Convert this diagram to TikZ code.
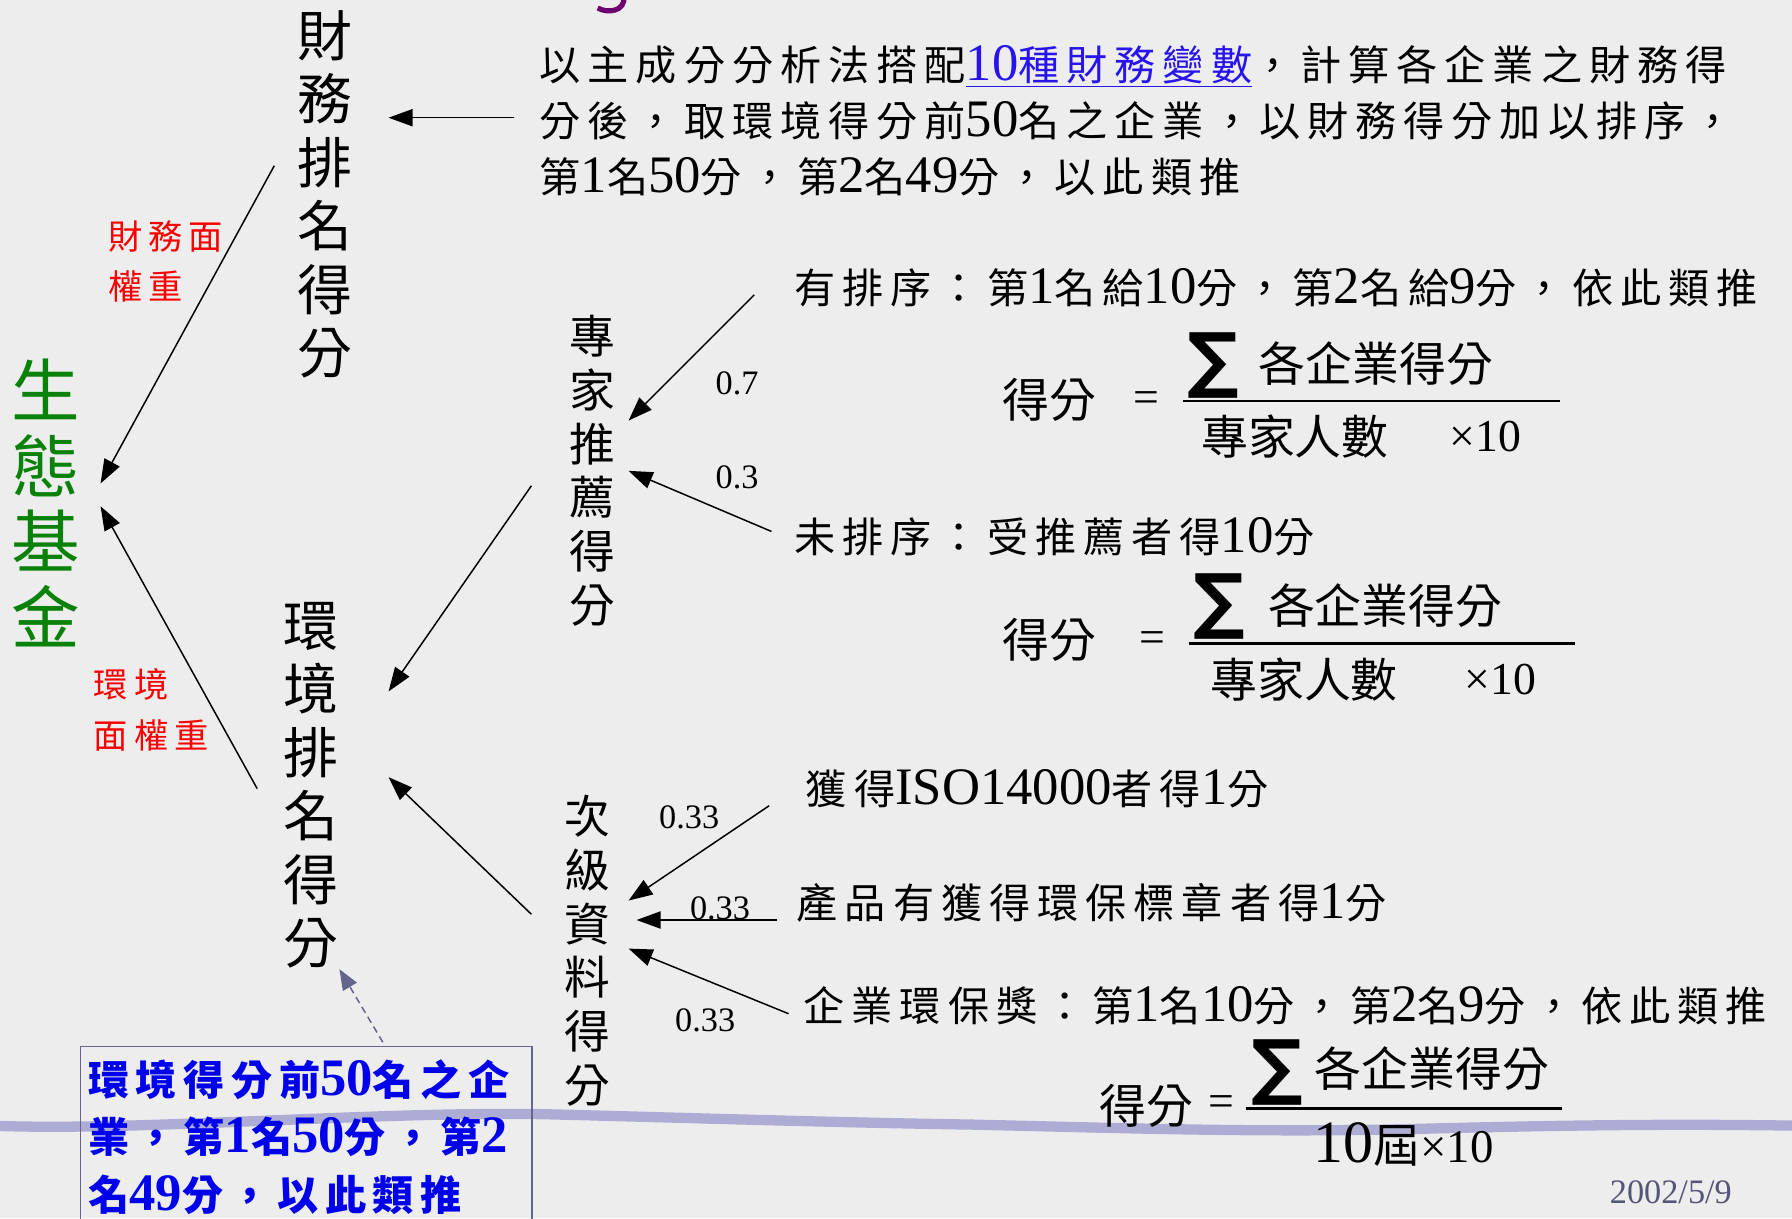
\documentclass[tikz,border=0pt]{standalone}
\usepackage{fontspec}
\usepackage{graphicx}
\setmainfont{Liberation Serif}
\newfontfamily\cjk{Noto Sans CJK TC}[LetterSpace=17]
\newfontfamily\cjkn{Noto Sans CJK TC}
\newfontfamily\cjkblue{Noto Sans CJK TC}[LetterSpace=16]
\newfontfamily\sigmafont{DejaVu Sans}
\usetikzlibrary{arrows.meta}
\definecolor{bgc}{RGB}{237,237,237}
\definecolor{ecogreen}{RGB}{10,130,10}
\definecolor{wred}{RGB}{250,0,0}
\definecolor{linkblue}{RGB}{40,20,235}
\definecolor{boxblue}{RGB}{0,0,235}
\definecolor{boxline}{RGB}{100,100,140}
\definecolor{wavec}{RGB}{172,172,212}
\definecolor{datec}{RGB}{85,85,120}
\definecolor{fragc}{RGB}{110,0,110}
\newcommand\tm[1]{\scalebox{1.28}{\rmfamily #1}}
\tikzset{
  arr/.style={-{Triangle[length=21pt,width=15pt]}, line width=1.3pt, black},
  dasharr/.style={-{Triangle[length=18pt,width=14pt]}, line width=1.3pt, boxline, dashed, dash pattern=on 6pt off 4pt},
  vbig/.style={align=center, inner sep=0pt, font=\cjkn\fontsize{48}{55.5}\selectfont},
  vmid/.style={align=center, inner sep=0pt, font=\cjkn\fontsize{40}{47}\selectfont},
  veco/.style={align=center, inner sep=0pt, text=ecogreen, font=\cjkn\fontsize{60}{66}\selectfont},
  wlabel/.style={align=left, anchor=west, inner sep=0pt, text=wred, font=\cjk\fontsize{30}{44}\selectfont},
  txt/.style={anchor=west, inner sep=0pt, align=left, font=\cjk\fontsize{36}{49}\selectfont},
  wt/.style={inner sep=0pt, font=\rmfamily\fontsize{30}{30}\selectfont},
  fm/.style={inner sep=0pt, font=\cjkn\fontsize{41}{41}\selectfont},
  fmr/.style={inner sep=0pt, font=\rmfamily\fontsize{40}{40}\selectfont},
  sig/.style={inner sep=0pt, font=\sigmafont\bfseries\fontsize{63}{63}\selectfont},
  bar/.style={line width=2pt, black},
  wave/.style={line width=9pt, wavec, line cap=round},
}
\begin{document}
\begin{tikzpicture}[x=1pt,y=-1pt]
\fill[bgc] (0,0) rectangle (1568,1066);
\useasboundingbox (0,0) rectangle (1568,1066);
% wavy band
\draw[wave] (-5,985) .. controls (120,990) and (330,972) .. (480,975)
  .. controls (600,978) and (720,982) .. (850,984)
  .. controls (980,987) and (1100,991) .. (1230,988)
  .. controls (1350,985) and (1450,983) .. (1575,985);
% title fragment
\draw[line width=4.5pt, fragc] (546,-3) .. controls (547,10) and (532,12) .. (523,7);

% main vertical nodes
\node[vbig] (fin) at (284,170) {財\\務\\排\\名\\得\\分};
\node[vbig] (env) at (272,687) {環\\境\\排\\名\\得\\分};
\node[veco] (eco) at (40,440) {生\\態\\基\\金};
\node[vmid] (exp) at (518,412) {專\\家\\推\\薦\\得\\分};
\node[vmid] (sec) at (514,832) {次\\級\\資\\料\\得\\分};

% weight labels
\node[wlabel] (wfin) at (95,229) {財務面\\權重};
\node[wlabel] (wenv) at (82,621) {環境\\面權重};

% top paragraph
\node[txt] (para) at (472,106) {以主成分分析法搭配\textcolor{linkblue}{\underline{\tm{10}種財務變數}}，計算各企業之財務得\\
分後，取環境得分前\tm{50}名之企業，以財務得分加以排序，\\
第\tm{1}名\tm{50}分，第\tm{2}名\tm{49}分，以此類推};

% expert rules
\node[txt] (rank) at (695,252) {有排序：第\tm{1}名給\tm{10}分，第\tm{2}名給\tm{9}分，依此類推};
\node[txt] (norank) at (695,470) {未排序：受推薦者得\tm{10}分};

% secondary rules
\node[txt] (iso) at (705,690) {獲得\tm{ISO14000}者得\tm{1}分};
\node[txt] (label) at (697,790) {產品有獲得環保標章者得\tm{1}分};
\node[txt] (award) at (703,880) {企業環保獎：第\tm{1}名\tm{10}分，第\tm{2}名\tm{9}分，依此類推};

% weights on arrows
\node[wt] (w07) at (645,335) {0.7};
\node[wt] (w03) at (645,418) {0.3};
\node[wt] (w33a) at (603,715) {0.33};
\node[wt] (w33b) at (630,795) {0.33};
\node[wt] (w33c) at (617,893) {0.33};

% formula 1
\node[fm] (f1l) at (918,350) {得分};
\node[fmr] (f1eq) at (1003,352) {=};
\node[sig] (f1s) at (1062,320) {∑};
\node[fm] (f1n) at (1204,318) {各企業得分};
\node[fm] (f1d) at (1133,382) {專家人數};
\node[fmr] (f1x) at (1300,382) {×10};
\coordinate (f1a) at (1035,351);
\coordinate (f1b) at (1365,351);
\draw[bar] (f1a) -- (f1b);

% formula 2
\node[fm] (f2l) at (918,560) {得分};
\node[fmr] (f2eq) at (1008,562) {=};
\node[sig] (f2s) at (1067,531) {∑};
\node[fm] (f2n) at (1212,530) {各企業得分};
\node[fm] (f2d) at (1141,595) {專家人數};
\node[fmr] (f2x) at (1313,595) {×10};
\coordinate (f2a) at (1040,563);
\coordinate (f2b) at (1378,563);
\draw[bar] (f2a) -- (f2b);

% formula 3
\node[fm] (f3l) at (1003,968) {得分};
\node[fmr] (f3eq) at (1069,968) {=};
\node[sig] (f3s) at (1118,938) {∑};
\node[fm] (f3n) at (1253,935) {各企業得分};
\node[fm] (f3d) at (1228,1001) {\tm{10}屆\rmfamily ×10};
\coordinate (f3a) at (1090,970);
\coordinate (f3b) at (1367,970);
\draw[bar] (f3a) -- (f3b);

% date
\node[inner sep=0pt, text=datec, font=\rmfamily\fontsize{30}{30}\selectfont] (date) at (1462,1043) {2002/5/9};

% blue box
\node[draw=boxline, line width=1.2pt, anchor=north west, minimum width=395pt, minimum height=175pt, inner sep=0pt] (box) at (70,915) {};
\node[anchor=west, inner sep=0pt, align=left, text=boxblue, font=\cjkblue\bfseries\fontsize{36}{50}\selectfont] (boxtxt) at (77,995)
 {環境得分前\tm{50}名之企\\業，第\tm{1}名\tm{50}分，第\tm{2}\\名\tm{49}分，以此類推};

% arrow coordinates
\coordinate (a1s) at (450,103);  \coordinate (a1e) at (340,103);
\coordinate (a2s) at (240,145);  \coordinate (a2e) at (88,423);
\coordinate (a3s) at (225,690);  \coordinate (a3e) at (88,443);
\coordinate (a4s) at (465,425);  \coordinate (a4e) at (340,605);
\coordinate (a5s) at (465,800);  \coordinate (a5e) at (340,680);
\coordinate (a6s) at (660,258);  \coordinate (a6e) at (550,368);
\coordinate (a7s) at (675,465);  \coordinate (a7e) at (550,412);
\coordinate (a8s) at (673,705);  \coordinate (a8e) at (550,788);
\coordinate (a9s) at (680,805);  \coordinate (a9e) at (557,805);
\coordinate (a10s) at (690,887); \coordinate (a10e) at (550,830);
\coordinate (a11s) at (335,912); \coordinate (a11e) at (297,848);

\draw[arr] (a1s) -- (a1e);
\draw[arr] (a2s) -- (a2e);
\draw[arr] (a3s) -- (a3e);
\draw[arr] (a4s) -- (a4e);
\draw[arr] (a5s) -- (a5e);
\draw[arr] (a6s) -- (a6e);
\draw[arr] (a7s) -- (a7e);
\draw[arr] (a8s) -- (a8e);
\draw[arr] (a9s) -- (a9e);
\draw[arr] (a10s) -- (a10e);
\draw[dasharr] (a11s) -- (a11e);
\end{tikzpicture}
\end{document}
